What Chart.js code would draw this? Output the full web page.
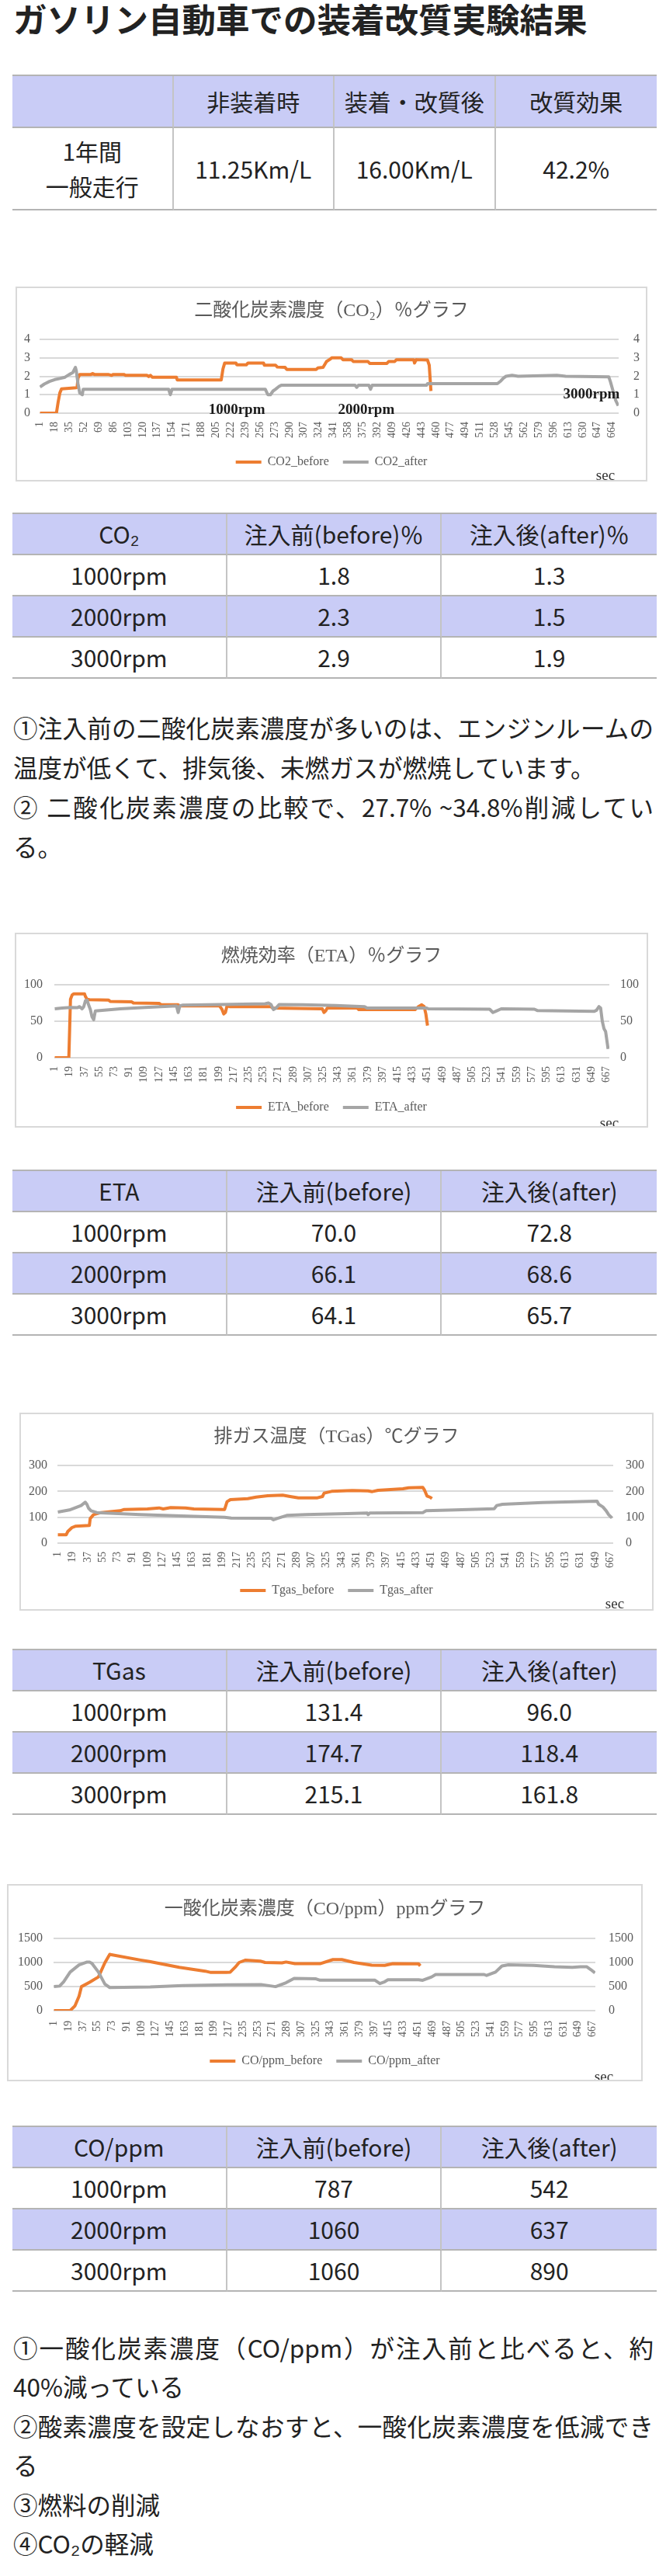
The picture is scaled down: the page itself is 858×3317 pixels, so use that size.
<!DOCTYPE html>
<html lang="ja">
<head>
<meta charset="utf-8">
<title>ガソリン自動車での装着改質実験結果</title>
<script src="https://cdn.jsdelivr.net/npm/chart.js@4.4.1/dist/chart.umd.min.js"></script>
<style>
  body { margin: 0; background: #fff; width: 858px; height: 3317px; position: relative; overflow: hidden;
         font-family: "Noto Sans CJK JP", sans-serif; color: #222; }
  h1 { position: absolute; left: 17px; top: 2px; margin: 0; font-size: 43.5px; line-height: 44px; font-weight: bold; color: #222; white-space: nowrap; }
  .tbl { position: absolute; left: 16px; width: 830px; border-top: 2px solid #b4b4b4; display: grid; }
  .tbl div { box-sizing: border-box; border-bottom: 2px solid #b4b4b4; border-right: 2px solid #c4c4c4;
             display: flex; align-items: center; justify-content: center; text-align: center; font-size: 30px; line-height: 45px; }
  .tbl div.last { border-right: none; }
  .tbl div.hl { background: #c9ccf6; }
  .para { position: absolute; left: 17px; width: 825px; font-size: 31.5px; line-height: 51px; }
  .para div { white-space: nowrap; }
  .para div.full { white-space: normal; text-align: justify; text-align-last: justify; }
  .chartbox { position: absolute; box-sizing: border-box; border: 2px solid #d9d9d9; background: #fff; }
  .chartbox div { position: relative; width: 100%; height: 100%; }
</style>
</head>
<body>

<h1>ガソリン自動車での装着改質実験結果</h1>

<div class="tbl" id="t0" style="top:96px"></div>

<div class="chartbox" style="left:20px; top:369px; width:814px; height:251px"><div><canvas id="c1"></canvas></div></div>
<div class="tbl" id="t1" style="top:660px"></div>
<div class="para" style="top:911px">
  <div class="full">①注入前の二酸化炭素濃度が多いのは、エンジンルームの</div>
  <div>温度が低くて、排気後、未燃ガスが燃焼しています。</div>
  <div class="full">② 二酸化炭素濃度の比較で、27.7% ~34.8%削減してい</div>
  <div>る。</div>
</div>

<div class="chartbox" style="left:19px; top:1201px; width:816px; height:251px"><div><canvas id="c2"></canvas></div></div>
<div class="tbl" id="t2" style="top:1506px"></div>

<div class="chartbox" style="left:25px; top:1819px; width:817px; height:255px"><div><canvas id="c3"></canvas></div></div>
<div class="tbl" id="t3" style="top:2123px"></div>

<div class="chartbox" style="left:9px; top:2426px; width:819px; height:254px"><div><canvas id="c4"></canvas></div></div>
<div class="tbl" id="t4" style="top:2737px"></div>
<div class="para" style="top:2997px; line-height:50.4px">
  <div class="full">①一酸化炭素濃度（CO/ppm）が注入前と比べると、約</div>
  <div>40%減っている</div>
  <div class="full">②酸素濃度を設定しなおすと、一酸化炭素濃度を低減でき</div>
  <div>る</div>
  <div>③燃料の削減</div>
  <div>④CO₂の軽減</div>
</div>

<script>
// ---- tick labels (seconds) ----
var co2Ticks = [1, 18, 35, 52, 69, 86, 103, 120, 137, 154, 171, 188, 205, 222, 239, 256, 273, 290, 307, 324,
                341, 358, 375, 392, 409, 426, 443, 460, 477, 494, 511, 528, 545, 562, 579, 596, 613, 630, 647, 664];
var secTicks = [1, 19, 37, 55, 73, 91, 109, 127, 145, 163, 181, 199, 217, 235, 253, 271, 289, 307, 325, 343,
                361, 379, 397, 415, 433, 451, 469, 487, 505, 523, 541, 559, 577, 595, 613, 631, 649, 667];

// ---- CO2 (%) ----
var co2BeforeSec = [1, 20, 22, 24, 26, 43, 44, 45, 47, 60, 62, 64, 80, 84, 86, 98, 100, 125, 127, 129, 131, 159, 160,
                    211, 213, 215, 228, 229, 240, 242, 260, 261, 274, 276, 285, 287, 321, 323, 329, 333, 337, 339,
                    350, 352, 362, 364, 381, 383, 403, 405, 412, 414, 434, 435, 437, 450, 452, 454];
var co2BeforeVal = [0, 0, 0.6, 1.1, 1.32, 1.38, 1.4, 1.9, 2.1, 2.1, 2.15, 2.1, 2.1, 2.05, 2.1, 2.1, 2.05, 2.05, 1.98, 2.05, 1.95, 1.95, 1.8,
                    1.8, 2.4, 2.72, 2.72, 2.62, 2.62, 2.72, 2.72, 2.6, 2.6, 2.5, 2.48, 2.37, 2.37, 2.45, 2.48, 2.8, 2.92, 3.0,
                    3.0, 2.9, 2.9, 2.8, 2.8, 2.7, 2.7, 2.8, 2.8, 2.9, 2.9, 2.72, 2.9, 2.88, 2.6, 1.2];
var co2AfterSec = [1, 6, 12, 18, 24, 30, 35, 39, 42, 43, 45, 47, 50, 51, 150, 152, 154, 262, 265, 268, 271, 274, 278, 281,
                   366, 368, 370, 382, 384, 386, 449, 450, 531, 535, 538, 541, 548, 555, 600, 610, 660, 662, 665, 668, 671];
var co2AfterVal = [1.42, 1.58, 1.72, 1.82, 1.88, 1.95, 2.1, 2.2, 2.48, 2.3, 1.6, 1.1, 1.0, 1.3, 1.3, 1.0, 1.3, 1.3, 1.0, 1.0, 1.2, 1.3, 1.45, 1.52,
                   1.52, 1.4, 1.52, 1.52, 1.3, 1.52, 1.52, 1.6, 1.6, 1.75, 1.9, 2.0, 2.05, 2.0, 2.05, 2.0, 1.97, 1.7, 1.2, 0.7, 0.4];
var co2NoteText = ["1000rpm", "2000rpm", "3000rpm"];
var co2NoteSec = [229, 379, 640];
var co2NoteVal = [0.17, 0.17, 1.0];

// ---- ETA (%) ----
var etaBeforeSec = [1, 18, 19, 20, 22, 24, 37, 38, 40, 43, 66, 68, 94, 96, 127, 129, 150, 152, 200, 203, 205, 207, 209, 212,
                    262, 264, 324, 326, 328, 330, 366, 368, 436, 440, 444, 447, 449, 451];
var etaBeforeVal = [0, 0, 40, 80, 86, 87.5, 87.5, 84, 80, 79.5, 79, 77, 76.5, 75, 74.5, 73, 72.5, 71, 71, 66, 60, 62, 71, 70,
                    70, 68, 67, 62, 64, 68, 68, 66, 66, 70, 72.5, 70, 60, 44];
var etaAfterSec = [1, 10, 20, 28, 31, 34, 36, 38, 40, 42, 44, 46, 48, 49, 50, 80, 110, 148, 150, 152, 155, 200, 255, 259, 262,
                   265, 268, 272, 300, 340, 375, 378, 450, 452, 526, 530, 534, 540, 580, 584, 652, 655, 658, 660, 662, 664, 666, 669];
var etaAfterVal = [67, 68, 69, 68.5, 70, 67, 70, 78, 79, 72, 66, 56, 52, 58, 64, 67, 69, 71, 62, 71, 72, 73, 74, 75, 73,
                   66, 68, 73, 72.5, 71.5, 70, 68, 68, 67, 66.5, 62, 64, 67, 66.5, 64.5, 63.5, 65, 70, 68, 50, 40, 36, 12];

// ---- TGas (℃) ----
var tgasBeforeSec = [1, 11, 13, 18, 22, 39, 40, 44, 53, 76, 81, 109, 123, 128, 137, 155, 165, 202, 205, 209, 230, 240, 254,
                     272, 281, 291, 314, 320, 322, 331, 356, 375, 380, 387, 417, 424, 441, 443, 446, 450, 452];
var tgasBeforeVal = [32, 32, 45, 60, 65, 68, 95, 110, 118, 125, 130, 132, 136, 132, 137, 136, 132, 130, 160, 168, 172, 178, 183,
                     185, 180, 175, 175, 180, 193, 200, 203, 202, 199, 204, 210, 214, 215, 205, 182, 177, 172];
var tgasAfterSec = [1, 15, 29, 34, 36, 38, 41, 48, 100, 150, 202, 210, 258, 261, 265, 277, 300, 350, 374, 375, 377,
                    441, 445, 480, 527, 530, 537, 585, 651, 653, 658, 662, 665, 669];
var tgasAfterVal = [120, 128, 145, 158, 150, 135, 125, 118, 110, 105, 100, 97, 96, 90, 95, 107, 110, 114, 116, 110, 116,
                    118, 125, 128, 133, 145, 150, 157, 162, 150, 140, 125, 110, 97];

// ---- CO (ppm) ----
var coBeforeSec = [1, 21, 27, 32, 35, 45, 56, 64, 70, 72, 108, 119, 156, 188, 195, 214, 219, 225, 230, 238,
                   256, 262, 283, 288, 299, 330, 346, 357, 372, 394, 410, 420, 452, 454];
var coBeforeVal = [0, 0, 100, 300, 498, 590, 700, 996, 1170, 1160, 1050, 1020, 900, 820, 793, 793, 800, 900, 1000, 1050,
                   1030, 1000, 991, 1010, 975, 975, 1060, 1060, 1000, 943, 940, 975, 970, 930];
var coAfterSec = [1, 8, 13, 21, 32, 42, 45, 48, 56, 64, 70, 120, 160, 214, 257, 262, 275, 288, 298, 325, 330, 398, 404, 410,
                  414, 452, 457, 468, 473, 533, 536, 547, 555, 563, 594, 620, 642, 652, 660, 665, 670];
var coAfterVal = [500, 510, 600, 800, 950, 1010, 1010, 980, 800, 550, 480, 490, 520, 535, 541, 530, 498, 580, 670, 660, 632, 632, 562, 600,
                  640, 640, 630, 700, 750, 750, 730, 800, 927, 953, 940, 910, 900, 910, 910, 850, 782];

// ---- tables ----
var rpmRows = ["1000rpm", "2000rpm", "3000rpm"];
var co2TblBefore = ["1.8", "2.3", "2.9"];
var co2TblAfter = ["1.3", "1.5", "1.9"];
var etaTblBefore = ["70.0", "66.1", "64.1"];
var etaTblAfter = ["72.8", "68.6", "65.7"];
var tgasTblBefore = ["131.4", "174.7", "215.1"];
var tgasTblAfter = ["96.0", "118.4", "161.8"];
var coTblBefore = ["787", "1060", "1060"];
var coTblAfter = ["542", "637", "890"];

var ORANGE = "#ed7d31";
var GRAY = "#a5a5a5";
var SERIF = '"Liberation Serif", "Noto Sans CJK JP", serif';

function buildTable(id, header, rows, rowHeights, hlRows) {
    var el = document.getElementById(id);
    var n = header.length;
    el.style.gridTemplateColumns = "repeat(" + n + ", 1fr)";
    el.style.gridTemplateRows = rowHeights.map(function (h) { return h + "px"; }).join(" ");
    var all = [header].concat(rows);
    all.forEach(function (row, r) {
        row.forEach(function (txt, c) {
            var d = document.createElement("div");
            d.innerHTML = txt;
            if (c === n - 1) d.className = "last";
            if (r === 0 || hlRows.indexOf(r) >= 0) d.className += " hl";
            el.appendChild(d);
        });
    });
}

function zipRows(names, a, b) {
    return names.map(function (nm, i) { return [nm, a[i], b[i]]; });
}

buildTable("t0", ["", "非装着時", "装着・改質後", "改質効果"],
    [["1年間<br>一般走行", "11.25Km/L", "16.00Km/L", "42.2%"]], [67, 106], []);
buildTable("t1", ["CO₂", "注入前(before)％", "注入後(after)％"], zipRows(rpmRows, co2TblBefore, co2TblAfter), [53, 53, 53, 53], [2]);
buildTable("t2", ["ETA", "注入前(before)", "注入後(after)"], zipRows(rpmRows, etaTblBefore, etaTblAfter), [53, 53, 53, 53], [2]);
buildTable("t3", ["TGas", "注入前(before)", "注入後(after)"], zipRows(rpmRows, tgasTblBefore, tgasTblAfter), [53, 53, 53, 53], [2]);
buildTable("t4", ["CO/ppm", "注入前(before)", "注入後(after)"], zipRows(rpmRows, coTblBefore, coTblAfter), [53, 53, 53, 53], [2]);

// ---- charts ----
function toPoints(secs, vals) {
    return secs.map(function (s, i) { return { x: s, y: vals[i] }; });
}

function plainNumber(v) {
    return String(v);
}

// rpm labels and the "sec" caption
var notesPlugin = {
    id: "notes",
    afterDatasetsDraw: function (chart) {
        var o = chart.options.plugins.notes;
        var ctx = chart.ctx;
        ctx.save();
        ctx.font = "bold 19px " + SERIF;
        ctx.fillStyle = "#1a1a1a";
        ctx.textAlign = "center";
        ctx.textBaseline = "middle";
        (o.text || []).forEach(function (t, i) {
            ctx.fillText(t, chart.scales.x.getPixelForValue(o.sec[i]), chart.scales.y.getPixelForValue(o.val[i]));
        });
        ctx.font = "19px " + SERIF;
        ctx.fillStyle = "#333";
        ctx.fillText("sec", o.secX, o.secY);
        ctx.restore();
    }
};

function makeChart(id, cfg) {
    var tickFont = { size: 16, family: SERIF };
    return new Chart(document.getElementById(id), {
        type: "line",
        data: {
            datasets: [
                { label: cfg.names[0], data: toPoints(cfg.beforeSec, cfg.beforeVal), borderColor: ORANGE, backgroundColor: ORANGE,
                  borderWidth: 4, pointRadius: 0, tension: 0, order: 1, borderJoinStyle: "round" },
                { label: cfg.names[1], data: toPoints(cfg.afterSec, cfg.afterVal), borderColor: GRAY, backgroundColor: GRAY,
                  borderWidth: 4, pointRadius: 0, tension: 0, order: 0, borderJoinStyle: "round" }
            ]
        },
        options: {
            responsive: true,
            maintainAspectRatio: false,
            animation: false,
            layout: { padding: { top: 0, left: 0, right: 0, bottom: cfg.padBottom } },
            plugins: {
                title: { display: true, text: cfg.title, color: "#595959", font: { size: 24, family: SERIF, weight: "normal" },
                         padding: { top: cfg.titleTop, bottom: cfg.titleBottom } },
                legend: {
                    position: "bottom",
                    labels: {
                        boxWidth: 33, boxHeight: 4, padding: 18, color: "#595959", font: { size: 16, family: SERIF },
                        sort: function (a, b) { return a.datasetIndex - b.datasetIndex; },
                        generateLabels: function (chart) {
                            var items = Chart.defaults.plugins.legend.labels.generateLabels(chart);
                            items.forEach(function (it) { it.lineWidth = 0; });
                            return items;
                        }
                    }
                },
                tooltip: { enabled: false },
                notes: { text: cfg.noteText, sec: cfg.noteSec, val: cfg.noteVal, secX: cfg.secX, secY: cfg.secY }
            },
            scales: {
                x: {
                    type: "linear", min: 0.5, max: cfg.count + 0.5, bounds: "data",
                    grid: { display: false, drawTicks: false }, border: { display: false },
                    ticks: { autoSkip: false, minRotation: 90, maxRotation: 90, padding: cfg.xPad, color: "#595959",
                             font: { size: 14, family: SERIF }, callback: plainNumber },
                    afterBuildTicks: function (s) { s.ticks = cfg.ticks.map(function (v) { return { value: v }; }); },
                    afterFit: function (s) { s.height = cfg.xHeight; }
                },
                y: {
                    position: "left", min: 0, max: cfg.yMax,
                    grid: { color: "#d9d9d9", lineWidth: 2, drawTicks: false }, border: { display: false },
                    ticks: { stepSize: cfg.yStep, padding: cfg.yPadL, color: "#595959", font: tickFont, callback: plainNumber },
                    afterFit: function (s) { s.width = cfg.leftW; }
                },
                y2: {
                    position: "right", min: 0, max: cfg.yMax,
                    grid: { display: false, drawTicks: false }, border: { display: false },
                    ticks: { stepSize: cfg.yStep, padding: cfg.yPadR, color: "#595959", font: tickFont, callback: plainNumber },
                    afterFit: function (s) { s.width = cfg.rightW; }
                }
            }
        },
        plugins: [notesPlugin]
    });
}

makeChart("c1", {
    title: "二酸化炭素濃度（CO₂）％グラフ", names: ["CO2_before", "CO2_after"],
    beforeSec: co2BeforeSec, beforeVal: co2BeforeVal, afterSec: co2AfterSec, afterVal: co2AfterVal,
    ticks: co2Ticks, count: 671, yMax: 4, yStep: 1,
    noteText: co2NoteText, noteSec: co2NoteSec, noteVal: co2NoteVal,
    leftW: 29, rightW: 35, yPadL: 12, yPadR: 19, xPad: 11, xHeight: 37,
    titleTop: 15, titleBottom: 22.2, padBottom: 5, secX: 758, secY: 242
});

makeChart("c2", {
    title: "燃焼効率（ETA）％グラフ", names: ["ETA_before", "ETA_after"],
    beforeSec: etaBeforeSec, beforeVal: etaBeforeVal, afterSec: etaAfterSec, afterVal: etaAfterVal,
    ticks: secTicks, count: 670, yMax: 100, yStep: 50,
    leftW: 49, rightW: 48, yPadL: 15, yPadR: 14, xPad: 11, xHeight: 38,
    titleTop: 14, titleBottom: 22.2, padBottom: 6, secX: 764, secY: 244
});

makeChart("c3", {
    title: "排ガス温度（TGas）℃グラフ", names: ["Tgas_before", "Tgas_after"],
    beforeSec: tgasBeforeSec, beforeVal: tgasBeforeVal, afterSec: tgasAfterSec, afterVal: tgasAfterVal,
    ticks: secTicks, count: 670, yMax: 300, yStep: 100,
    leftW: 47, rightW: 50, yPadL: 13, yPadR: 16, xPad: 11, xHeight: 35,
    titleTop: 15, titleBottom: 22.2, padBottom: 6, secX: 765, secY: 245
});

makeChart("c4", {
    title: "一酸化炭素濃度（CO/ppm）ppmグラフ", names: ["CO/ppm_before", "CO/ppm_after"],
    beforeSec: coBeforeSec, beforeVal: coBeforeVal, afterSec: coAfterSec, afterVal: coAfterVal,
    ticks: secTicks, count: 670, yMax: 1500, yStep: 500,
    leftW: 58, rightW: 59, yPadL: 14, yPadR: 17, xPad: 13, xHeight: 39,
    titleTop: 16, titleBottom: 23.2, padBottom: 6, secX: 767, secY: 247
});
</script>
</body>
</html>
